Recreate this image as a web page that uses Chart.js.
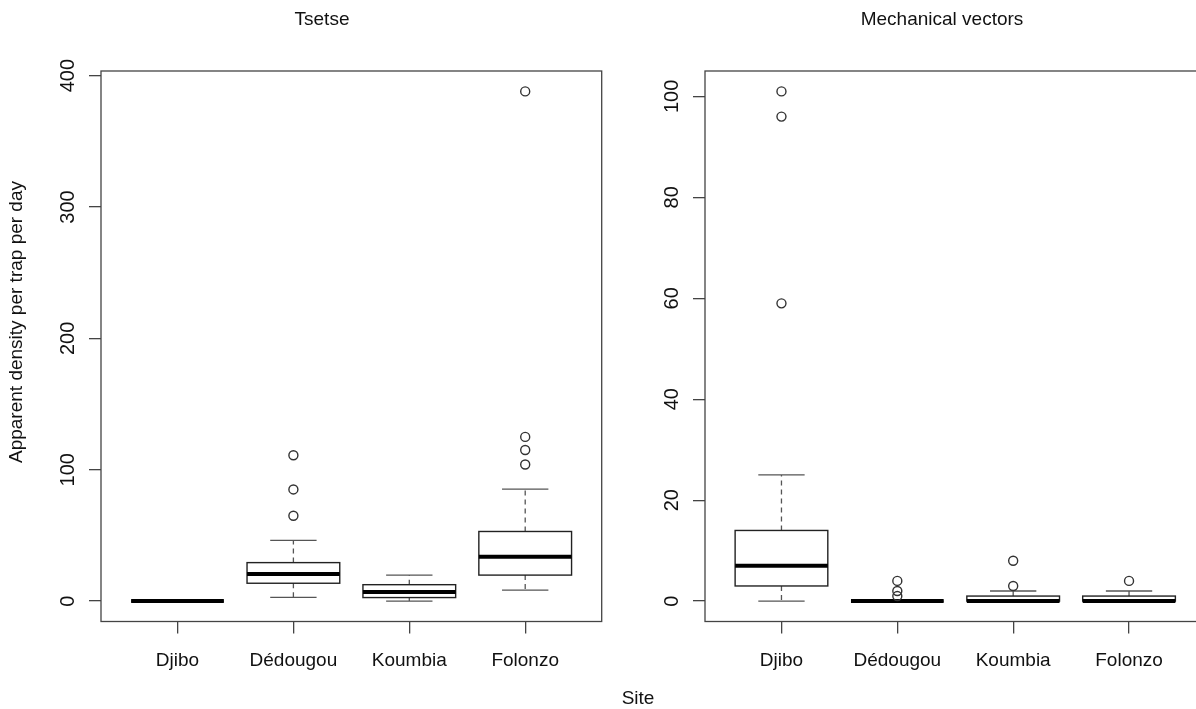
<!DOCTYPE html>
<html>
<head>
<meta charset="utf-8">
<script src="https://cdn.jsdelivr.net/npm/chart.js@4.4.1/dist/chart.umd.min.js"></script>
<style>
  html, body { margin: 0; padding: 0; background: #fff; }
  body { width: 1196px; height: 709px; overflow: hidden; position: relative; }
  canvas { position: absolute; top: 0; }
</style>
</head>
<body>
<canvas id="tsetse" width="644" height="709" style="left:0px"></canvas>
<canvas id="mech" width="644" height="709" style="left:620px"></canvas>
<script>
const sites = ['Djibo', 'Dédougou', 'Koumbia', 'Folonzo'];
const yTicksTsetse = [0, 100, 200, 300, 400];
const yTicksMech = [0, 20, 40, 60, 80, 100];

// Tsetse: box statistics per site
const tsetseLo  = [0, 2.9, 0, 8.4];
const tsetseQ1  = [0, 13.6, 2.7, 19.8];
const tsetseMed = [0, 20.6, 7.0, 33.8];
const tsetseQ3  = [0, 29.3, 12.5, 53];
const tsetseHi  = [0, 46.2, 19.8, 85.3];
const tsetseOut = [[], [65, 85, 111], [], [104, 115, 125, 388]];

// Mechanical vectors: box statistics per site
const mechLo  = [0, 0, 0, 0];
const mechQ1  = [3, 0, 0, 0];
const mechMed = [7, 0, 0, 0];
const mechQ3  = [14, 0, 1, 1];
const mechHi  = [25, 0, 2, 2];
const mechOut = [[59, 96, 101], [1, 2, 4], [3, 8], [4]];

Chart.defaults.font.family = '"Liberation Sans", Arial, Helvetica, sans-serif';
Chart.defaults.color = '#111';

const INK = '#333';
const FONT = '19px "Liberation Sans", Arial, sans-serif';

// R style boxes drawn through the chart scales
const boxPlot = {
  id: 'boxPlot',
  beforeDatasetsDraw(chart, args, opts) {
    const {ctx, scales: {x, y}} = chart;
    const s = opts.stats;
    const py = v => y.getPixelForValue(v);
    ctx.save();
    ctx.lineCap = 'butt';
    for (let i = 0; i < s.med.length; i++) {
      const cx = x.getPixelForValue(i + 1);
      const half = x.getPixelForValue(i + 1.4) - cx;
      const cap = half / 2;
      // dashed whiskers
      ctx.strokeStyle = '#555';
      ctx.lineWidth = 1.3;
      ctx.setLineDash([5, 4]);
      ctx.beginPath();
      ctx.moveTo(cx, py(s.q3[i])); ctx.lineTo(cx, py(s.hi[i]));
      ctx.moveTo(cx, py(s.q1[i])); ctx.lineTo(cx, py(s.lo[i]));
      ctx.stroke();
      ctx.setLineDash([]);
      // staples
      ctx.beginPath();
      ctx.moveTo(cx - cap, py(s.hi[i])); ctx.lineTo(cx + cap, py(s.hi[i]));
      ctx.moveTo(cx - cap, py(s.lo[i])); ctx.lineTo(cx + cap, py(s.lo[i]));
      ctx.stroke();
      // box
      ctx.strokeStyle = '#222';
      ctx.lineWidth = 1.4;
      ctx.strokeRect(cx - half, py(s.q3[i]), 2 * half, py(s.q1[i]) - py(s.q3[i]));
      // median
      ctx.strokeStyle = '#000';
      ctx.lineWidth = 4;
      ctx.beginPath();
      ctx.moveTo(cx - half, py(s.med[i])); ctx.lineTo(cx + half, py(s.med[i]));
      ctx.stroke();
    }
    ctx.restore();
  },
  afterDraw(chart, args, opts) {
    const {ctx, chartArea: a} = chart;
    ctx.save();
    ctx.strokeStyle = '#444';
    ctx.lineWidth = 1.3;
    ctx.strokeRect(a.left, a.top, a.right - a.left, a.bottom - a.top);
    ctx.fillStyle = '#111';
    ctx.font = FONT;
    ctx.textAlign = 'center';
    ctx.textBaseline = 'middle';
    // panel title
    ctx.fillText(opts.title, opts.titleX, 19.5);
    if (opts.yTitle) {
      ctx.save();
      ctx.translate(17, 322);
      ctx.rotate(-Math.PI / 2);
      ctx.fillText(opts.yTitle, 0, 0);
      ctx.restore();
    }
    if (opts.outerLabel) {
      ctx.fillText(opts.outerLabel, opts.outerX, 699);
    }
    ctx.restore();
  }
};

function outliers(list) {
  return list.flatMap((vals, i) => vals.map(v => ({x: i + 1, y: v})));
}

function makeChart(id, cfg) {
  const all = [].concat(cfg.hi, ...cfg.out);
  const top = Math.max(...all);
  return new Chart(document.getElementById(id), {
    type: 'scatter',
    data: {
      datasets: [{
        data: outliers(cfg.out),
        pointRadius: 4.5,
        pointBorderWidth: 1.4,
        pointBorderColor: INK,
        pointBackgroundColor: 'rgba(0,0,0,0)'
      }]
    },
    options: {
      responsive: false,
      animation: false,
      events: [],
      layout: { padding: { left: 0, right: cfg.padRight, top: 71, bottom: 0 } },
      plugins: {
        legend: { display: false },
        tooltip: { enabled: false },
        title: { display: false },
        boxPlot: {
          stats: { lo: cfg.lo, q1: cfg.q1, med: cfg.med, q3: cfg.q3, hi: cfg.hi },
          title: cfg.title,
          titleX: cfg.titleX,
          yTitle: cfg.yTitle,
          outerLabel: cfg.outerLabel,
          outerX: cfg.outerX
        }
      },
      scales: {
        x: {
          type: 'linear',
          min: 0.34,
          max: sites.length + 0.66,
          afterBuildTicks: s => { s.ticks = sites.map((_, i) => ({value: i + 1})); },
          afterFit: s => { s.height = 87.5; },
          border: { display: false },
          grid: { display: true, drawOnChartArea: false, drawTicks: true, tickLength: 12, color: '#444', lineWidth: 1.3 },
          ticks: {
            autoSkip: false,
            maxRotation: 0,
            padding: 16,
            font: { size: 19 },
            color: '#111',
            callback: v => sites[v - 1]
          }
        },
        y: {
          min: -0.04 * top,
          max: 1.04 * top,
          afterBuildTicks: s => { s.ticks = cfg.yTicks.map(v => ({value: v})); },
          afterFit: s => { s.width = cfg.yWidth; },
          border: { display: false },
          grid: { display: true, drawOnChartArea: false, drawTicks: true, tickLength: 12, color: '#444', lineWidth: 1.3 },
          ticks: {
            minRotation: 90,
            maxRotation: 90,
            crossAlign: 'center',
            padding: 3.5,
            font: { size: 20 },
            color: '#111'
          }
        }
      }
    },
    plugins: [boxPlot]
  });
}

makeChart('tsetse', {
  title: 'Tsetse',
  titleX: 322,
  yTitle: 'Apparent density per trap per day',
  yTicks: yTicksTsetse,
  yWidth: 101,
  padRight: 42.3,
  lo: tsetseLo, q1: tsetseQ1, med: tsetseMed, q3: tsetseQ3, hi: tsetseHi, out: tsetseOut
});

makeChart('mech', {
  title: 'Mechanical vectors',
  titleX: 322,
  yTicks: yTicksMech,
  yWidth: 85,
  padRight: 58.5,
  outerLabel: 'Site',
  outerX: 18,
  lo: mechLo, q1: mechQ1, med: mechMed, q3: mechQ3, hi: mechHi, out: mechOut
});
</script>
</body>
</html>
